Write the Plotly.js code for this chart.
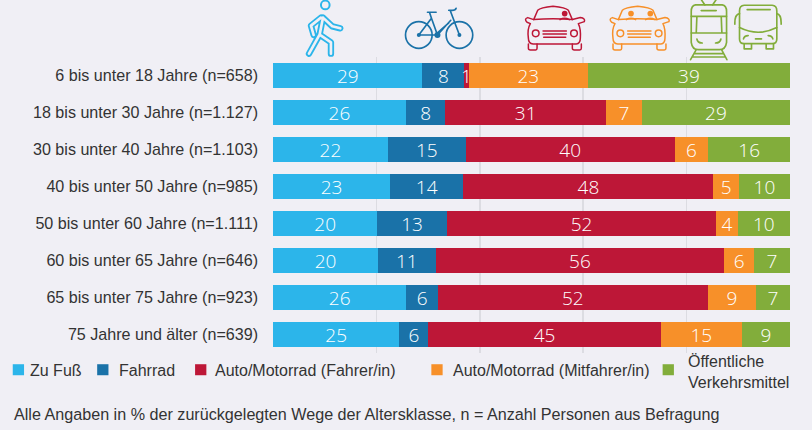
<!DOCTYPE html>
<html>
<head>
<meta charset="utf-8">
<script src="https://cdn.plot.ly/plotly-3.0.1.min.js"></script>
<style>html,body{margin:0;padding:0;background:#f0eff5;overflow:hidden}</style>
</head>
<body>
<div id="chart" style="width:812px;height:430px"></div>
<script>
const categories = [
  "6 bis unter 18 Jahre (n=658)",
  "18 bis unter 30 Jahre (n=1.127)",
  "30 bis unter 40 Jahre (n=1.103)",
  "40 bis unter 50 Jahre (n=985)",
  "50 bis unter 60 Jahre (n=1.111)",
  "60 bis unter 65 Jahre (n=646)",
  "65 bis unter 75 Jahre (n=923)",
  "75 Jahre und älter (n=639)"
];
// bar lengths as measured on the picture
const zuFuss   = [28.9, 25.7, 22.2, 22.6, 20.15, 20.35, 25.8, 24.4];
const fahrrad  = [8.07, 7.65, 15.07, 14.2, 13.4, 11.1, 6.07, 5.6];
const fahrer   = [0.9, 31.05, 40.4, 48.3, 52.1, 55.9, 52.2, 44.9];
const mitfahrer= [23.0, 6.94, 6.5, 4.9, 4.1, 5.7, 9.3, 15.65];
const oepnv    = [39.1, 28.66, 15.8, 9.9, 10.1, 7.0, 6.6, 9.3];
// printed labels
const zuFussLabels    = [29, 26, 22, 23, 20, 20, 26, 25];
const fahrradLabels   = [8, 8, 15, 14, 13, 11, 6, 6];
const fahrerLabels    = [1, 31, 40, 48, 52, 56, 52, 45];
const mitfahrerLabels = [23, 7, 6, 5, 4, 6, 9, 15];
const oepnvLabels     = [39, 29, 16, 10, 10, 7, 7, 9];

const seriesNames = ["Zu Fuß", "Fahrrad", "Auto/Motorrad (Fahrer/in)", "Auto/Motorrad (Mitfahrer/in)", "Öffentliche<br>Verkehrsmittel"];
const colors = ["#2cb5ea", "#1a72a8", "#bd1737", "#f79029", "#82ad3b"];
const bg = "#f0eff5";
const footnote = "Alle Angaben in % der zurückgelegten Wege der Altersklasse, n = Anzahl Personen aus Befragung";

const M = {l: 273, r: 21.5, t: 57.3, b: 77.2};
const W = 812 - M.l - M.r, H = 430 - M.t - M.b;
const px = x => (x - M.l) / W;
const py = y => 1 - (y - M.t) / H;

const values = [zuFuss, fahrrad, fahrer, mitfahrer, oepnv];
const labels = [zuFussLabels, fahrradLabels, fahrerLabels, mitfahrerLabels, oepnvLabels];
const traces = values.map((v, i) => ({
  type: "bar", orientation: "h", name: seriesNames[i].replace("<br>", " "),
  y: categories, x: v, text: labels[i].map(String),
  textposition: "inside", insidetextanchor: "middle", textangle: 0, constraintext: "none",
  textfont: {family: "'Open Sans',sans-serif", size: 19, weight: 300, stretch: "condensed", color: "#ffffff"},
  marker: {color: colors[i], line: {width: 0}},
  hoverinfo: "skip"
}));

// legend drawn at the reference's irregular positions
const swatchX = [12.5, 97, 195, 431.5, 663];
const legendTextX = [28, 117, 212.5, 451, 686.5];
const shapes = swatchX.map((x, i) => ({
  type: "rect", xref: "paper", yref: "paper", line: {width: 0}, fillcolor: colors[i],
  x0: px(x), x1: px(x + 11.3), y0: py(375), y1: py(364)
}));
const annotations = seriesNames.map((s, i) => ({
  xref: "paper", yref: "paper", x: px(legendTextX[i]), y: py(i === 4 ? 372 : 370.5),
  xanchor: "left", yanchor: "middle", align: "left", showarrow: false, text: s,
  font: {family: "'Liberation Sans',sans-serif", size: 16, color: "#333333"}
}));
annotations.push({
  xref: "paper", yref: "paper", x: px(12), y: py(414), xanchor: "left", yanchor: "middle",
  showarrow: false, text: footnote,
  font: {family: "'Liberation Sans',sans-serif", size: 16.15, color: "#333333"}
});

// pictograms
function svgUri(vb, body) {
  const s = `<svg xmlns="http://www.w3.org/2000/svg" viewBox="${vb}" fill="none" stroke-linecap="round" stroke-linejoin="round">${body}</svg>`;
  return "data:image/svg+xml;base64," + btoa(s);
}
function carBody(c, heads) {
  let h = heads.map(x => `<circle cx="${x}" cy="42" r="8.5" fill="${c}" stroke="none"/><path d="M${x-14} 60 Q${x} 52 ${x+14} 60" stroke="${c}" stroke-width="4.5"/>`).join("");
  return `<g stroke="${c}" stroke-width="4.5">
  <path d="M42 60 L54 32 Q62 24 100 20 Q138 24 146 32 L158 60"/>
  <path d="M42 60 Q100 55 158 60 L182 54 Q198 56 194 66 L176 72 Q184 88 182 116 Q182 132 170 133 L40 133 Q26 132 26 116 Q22 88 32 72 L22 68 Q12 58 24 54 Z"/>
  <path d="M26 133 V146 Q26 151 32 151 H48 Q52 151 52 146 V133 M158 133 V146 Q158 151 164 151 H180 Q185 151 185 146 V133"/>
  <circle cx="48" cy="101" r="10"/><circle cx="163" cy="101" r="10"/>
  <path d="M70 94 H140 M70 103 H140 M72 113 H138"/></g>${h}`;
}
const walkStick = "M84 54 L74 105 L42 162 M74 105 L108 128 L108 162 M84 54 L112 80 L136 86 M78 54 L48 78 L56 106";
const c0 = colors[0], c1 = colors[1], c2 = colors[2], c3 = colors[3], c4 = colors[4];
const walkerSvg = svgUri("30 0 120 174", `<circle cx="91" cy="16" r="13" stroke="${c0}" stroke-width="6"/><path d="${walkStick}" stroke="${c0}" stroke-width="19"/><path d="${walkStick}" stroke="${bg}" stroke-width="8"/>`);
const bikeSvg = svgUri("325 15 220 145", `<g stroke="${c1}" stroke-width="5"><circle cx="372" cy="106" r="40"/><circle cx="494" cy="106" r="40"/>
  <path d="M372 106 L410 56 L428 106 Z M428 106 L468 62 M410 56 L404 38 M398 38 H424 M428 100 L462 70 M494 106 L466 32 Q482 34 484 26 M462 32 H478"/></g>
  <g fill="${c1}"><circle cx="372" cy="106" r="6"/><circle cx="428" cy="106" r="9"/><circle cx="494" cy="106" r="6"/></g>`);
const redCarSvg = svgUri("10 10 195 150", carBody(c2, [135]));
const orangeCarSvg = svgUri("10 10 195 150", carBody(c3, [80, 138]));
const tramSvg = svgUri("25 0 125 186", `<g stroke="${c4}" stroke-width="5">
  <path d="M65 0 L76 16 M110 0 L99 16"/>
  <path d="M48 16 H128 Q141 18 141 36 V128 Q138 150 120 150 H56 Q38 150 35 128 V36 Q35 18 48 16 Z"/>
  <path d="M65 33 H110 M35 50 H141 M52 50 L50 100 M125 50 L127 100 M35 100 H141"/>
  <path d="M52 118 Q54 130 68 130 M124 118 Q122 130 108 130"/>
  <path d="M50 150 L33 180 M126 150 L142 180 M44 162 H132 M38 172 H138"/></g>`);
const busSvg = svgUri("160 10 150 145", `<g stroke="${c4}" stroke-width="5">
  <path d="M194 17 H278 Q292 18 292 34 V118 Q292 132 278 132 H194 Q180 132 180 118 V34 Q180 18 194 17 Z"/>
  <path d="M203 30 H272 M180 84 Q236 112 292 84"/>
  <path d="M180 42 Q165 44 166 74 M292 42 Q306 44 305 74"/>
  <path d="M192 118 Q194 108 206 108 M280 118 Q278 108 266 108 M228 118 H246"/>
  <path d="M194 134 V148 H216 V134 M260 134 V148 H282 V134"/></g>`);
const icons = [
  {src: walkerSvg, x: 305, y: 0, w: 40, h: 58},
  {src: bikeSvg, x: 403.3, y: 5, w: 73.3, h: 48.3},
  {src: redCarSvg, x: 523.3, y: 3.3, w: 65, h: 50},
  {src: orangeCarSvg, x: 608, y: 3.3, w: 65, h: 50},
  {src: tramSvg, x: 688.3, y: 0, w: 41.7, h: 62},
  {src: busSvg, x: 733.3, y: 3.3, w: 50, h: 48.3}
];
const images = icons.map(k => ({
  source: k.src, xref: "paper", yref: "paper", x: px(k.x), y: py(k.y),
  sizex: k.w / W, sizey: k.h / H, xanchor: "left", yanchor: "top", sizing: "stretch", layer: "above"
}));

const layout = {
  width: 812, height: 430, margin: {l: M.l, r: M.r, t: M.t, b: M.b, pad: 0},
  paper_bgcolor: bg, plot_bgcolor: bg, showlegend: false,
  barmode: "stack", barnorm: "percent", bargap: 0.332,
  xaxis: {range: [0, 100], tickvals: [0, 20, 40, 60, 80, 100], showticklabels: false, ticks: "",
          showgrid: true, gridcolor: "#dcdce2", gridwidth: 1.5, zeroline: false, showline: false, fixedrange: true},
  yaxis: {autorange: "reversed", type: "category", ticks: "", showgrid: false, zeroline: false, showline: false,
          ticklabelstandoff: 14, ticklabelshift: 1.5, automargin: false, fixedrange: true,
          tickfont: {family: "'Liberation Sans',sans-serif", size: 16.1, color: "#333333"}},
  shapes, annotations, images
};
Plotly.newPlot("chart", traces, layout, {displayModeBar: false, staticPlot: true});
</script>
</body>
</html>
